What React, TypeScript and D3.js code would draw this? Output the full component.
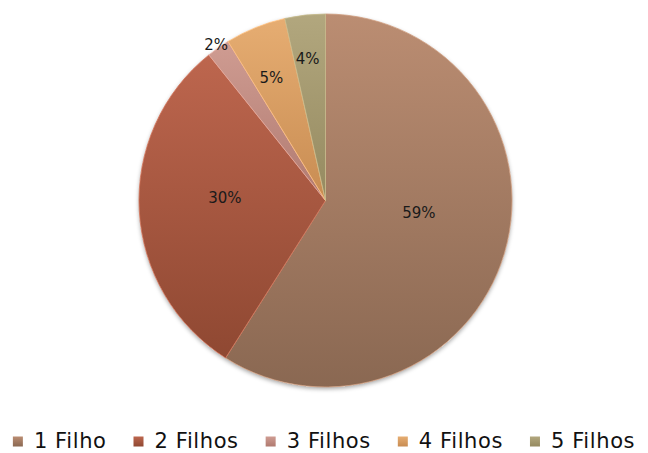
import React, { useEffect, useRef } from "react";
import * as d3 from "d3";

const categories = ["1 Filho", "2 Filhos", "3 Filhos", "4 Filhos", "5 Filhos"];
const values = [59, 30.25, 2, 5.25, 3.5];
const labels = ["59%", "30%", "2%", "5%", "4%"];
const topColors = ["#bb8d72", "#bd664e", "#cf9c92", "#e6ad72", "#b2a77e"];
const bottomColors = ["#8a6852", "#8f4832", "#b07a70", "#c88c52", "#958a60"];
const labelRadius = [0.505, 0.54, 1.02, 0.72, 0.766];
const labelAngleShiftDeg = [-8.8, 4.6, 0, -1.7, -0.9];

const W = 648;
const H = 453;

export default function App() {
  const ref = useRef<SVGSVGElement>(null);

  useEffect(() => {
    const svg = d3.select(ref.current);
    svg.selectAll("*").remove();
    const cx = 325.5;
    const cy = 200.5;
    const R = 186.5;

    const defs = svg.append("defs");
    categories.forEach((_, i) => {
      const g = defs
        .append("linearGradient")
        .attr("id", "grad" + i)
        .attr("x1", 0)
        .attr("y1", 0)
        .attr("x2", 0)
        .attr("y2", 1);
      g.append("stop").attr("offset", "0%").attr("stop-color", topColors[i]);
      g.append("stop").attr("offset", "100%").attr("stop-color", bottomColors[i]);
    });
    const f = defs
      .append("filter")
      .attr("id", "shadow")
      .attr("x", "-10%")
      .attr("y", "-10%")
      .attr("width", "120%")
      .attr("height", "120%");
    f.append("feDropShadow")
      .attr("dx", 0)
      .attr("dy", 2)
      .attr("stdDeviation", 2)
      .attr("flood-color", "#000")
      .attr("flood-opacity", 0.35);

    const pie = d3
      .pie<number>()
      .sort(null)
      .value((d) => d);
    const arcs = pie(values);
    const arc = d3.arc<d3.PieArcDatum<number>>().innerRadius(0).outerRadius(R);

    const g = svg.append("g").attr("transform", `translate(${cx},${cy})`);
    g.append("circle").attr("r", R).attr("fill", "#fff").attr("filter", "url(#shadow)");
    g.selectAll("path.slice")
      .data(arcs)
      .enter()
      .append("path")
      .attr("class", "slice")
      .attr("d", arc)
      .attr("fill", (_, i) => `url(#grad${i})`)
      .attr("stroke", (_, i) => d3.color(topColors[i])!.brighter(0.3).formatHex())
      .attr("stroke-width", 1)
      .attr("stroke-opacity", 0.8);

    g.selectAll("text.lbl")
      .data(arcs)
      .enter()
      .append("text")
      .attr("class", "lbl")
      .attr("transform", (d, i) => {
        const a = (d.startAngle + d.endAngle) / 2 + (labelAngleShiftDeg[i] * Math.PI) / 180;
        const r = R * labelRadius[i];
        return `translate(${Math.sin(a) * r},${-Math.cos(a) * r})`;
      })
      .attr("text-anchor", "middle")
      .attr("dy", "0.36em")
      .attr("font-family", "DejaVu Sans")
      .attr("font-size", 15)
      .attr("fill", "#1a1a1a")
      .text((_, i) => labels[i]);

    // legend
    const lg = svg.append("g");
    const items = lg
      .selectAll("g.item")
      .data(categories)
      .enter()
      .append("g")
      .attr("class", "item");
    items
      .append("rect")
      .attr("width", 10)
      .attr("height", 10)
      .attr("y", -11)
      .attr("fill", (_, i) => `url(#grad${i})`);
    const texts = items
      .append("text")
      .attr("x", 21)
      .attr("font-family", "DejaVu Sans")
      .attr("font-size", 21)
      .attr("letter-spacing", 0.6)
      .attr("fill", "#111")
      .text((d) => d);
    const widths: number[] = [];
    texts.each(function () {
      widths.push((this as SVGTextElement).getComputedTextLength());
    });
    const gap = 27;
    const itemW = widths.map((w) => 21 + w);
    const total = d3.sum(itemW) + gap * (itemW.length - 1);
    let x = (W - total) / 2;
    items.each(function (_, i) {
      d3.select(this).attr("transform", `translate(${x},${447.5})`);
      x += itemW[i] + gap;
    });
  }, []);

  return (
    <svg
      ref={ref}
      width={W}
      height={H}
      style={{ display: "block", position: "absolute", left: 0, top: 0, background: "#fff" }}
    />
  );
}
